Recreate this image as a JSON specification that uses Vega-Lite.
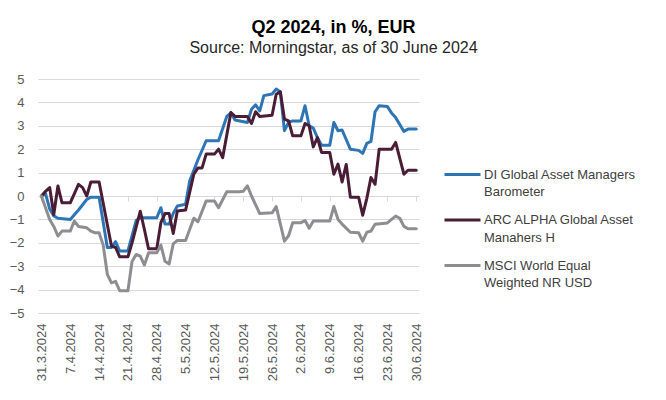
{
  "$schema": "https://vega.github.io/schema/vega-lite/v6.json",
  "width": 381,
  "height": 234,
  "autosize": {"type": "none"},
  "padding": {"left": 38, "top": 79, "right": 247, "bottom": 87},
  "background": "white",
  "title": {
    "text": "Q2 2024, in %, EUR",
    "subtitle": "Source: Morningstar, as of 30 June 2024",
    "anchor": "middle",
    "frame": "group",
    "dx": 105,
    "offset": 17,
    "font": "Liberation Sans",
    "fontSize": 18,
    "fontWeight": "bold",
    "color": "#000000",
    "subtitleFont": "Liberation Sans",
    "subtitleFontSize": 16,
    "subtitleColor": "#262626",
    "subtitlePadding": 3
  },
  "config": {
    "view": {"stroke": null},
    "font": "Liberation Sans",
    "style": {"guide-label": {"lineHeight": 17.5}}
  },
  "datasets": {
    "series": [
      {"date": "2024-03-31", "series": "DI Global Asset Managers Barometer", "value": 0},
      {"date": "2024-04-01", "series": "DI Global Asset Managers Barometer", "value": 0.1},
      {"date": "2024-04-02", "series": "DI Global Asset Managers Barometer", "value": -0.55},
      {"date": "2024-04-03", "series": "DI Global Asset Managers Barometer", "value": -0.85},
      {"date": "2024-04-04", "series": "DI Global Asset Managers Barometer", "value": -0.95},
      {"date": "2024-04-07", "series": "DI Global Asset Managers Barometer", "value": -1.0},
      {"date": "2024-04-09", "series": "DI Global Asset Managers Barometer", "value": -0.6},
      {"date": "2024-04-11", "series": "DI Global Asset Managers Barometer", "value": -0.15},
      {"date": "2024-04-12", "series": "DI Global Asset Managers Barometer", "value": -0.05},
      {"date": "2024-04-14", "series": "DI Global Asset Managers Barometer", "value": -0.05},
      {"date": "2024-04-16", "series": "DI Global Asset Managers Barometer", "value": -2.2},
      {"date": "2024-04-17", "series": "DI Global Asset Managers Barometer", "value": -2.2},
      {"date": "2024-04-18", "series": "DI Global Asset Managers Barometer", "value": -1.95},
      {"date": "2024-04-19", "series": "DI Global Asset Managers Barometer", "value": -2.35},
      {"date": "2024-04-21", "series": "DI Global Asset Managers Barometer", "value": -2.35},
      {"date": "2024-04-23", "series": "DI Global Asset Managers Barometer", "value": -1.05},
      {"date": "2024-04-24", "series": "DI Global Asset Managers Barometer", "value": -0.93},
      {"date": "2024-04-28", "series": "DI Global Asset Managers Barometer", "value": -0.93},
      {"date": "2024-04-29", "series": "DI Global Asset Managers Barometer", "value": -0.5},
      {"date": "2024-04-30", "series": "DI Global Asset Managers Barometer", "value": -1.2},
      {"date": "2024-05-01", "series": "DI Global Asset Managers Barometer", "value": -1.2},
      {"date": "2024-05-02", "series": "DI Global Asset Managers Barometer", "value": -0.75},
      {"date": "2024-05-03", "series": "DI Global Asset Managers Barometer", "value": -0.43},
      {"date": "2024-05-05", "series": "DI Global Asset Managers Barometer", "value": -0.35},
      {"date": "2024-05-06", "series": "DI Global Asset Managers Barometer", "value": 0.65},
      {"date": "2024-05-08", "series": "DI Global Asset Managers Barometer", "value": 1.55},
      {"date": "2024-05-10", "series": "DI Global Asset Managers Barometer", "value": 2.36},
      {"date": "2024-05-13", "series": "DI Global Asset Managers Barometer", "value": 2.36},
      {"date": "2024-05-15", "series": "DI Global Asset Managers Barometer", "value": 3.4},
      {"date": "2024-05-16", "series": "DI Global Asset Managers Barometer", "value": 3.55},
      {"date": "2024-05-17", "series": "DI Global Asset Managers Barometer", "value": 3.25},
      {"date": "2024-05-20", "series": "DI Global Asset Managers Barometer", "value": 3.14},
      {"date": "2024-05-21", "series": "DI Global Asset Managers Barometer", "value": 3.71},
      {"date": "2024-05-22", "series": "DI Global Asset Managers Barometer", "value": 3.9},
      {"date": "2024-05-23", "series": "DI Global Asset Managers Barometer", "value": 3.64},
      {"date": "2024-05-24", "series": "DI Global Asset Managers Barometer", "value": 4.29},
      {"date": "2024-05-26", "series": "DI Global Asset Managers Barometer", "value": 4.36},
      {"date": "2024-05-27", "series": "DI Global Asset Managers Barometer", "value": 4.57},
      {"date": "2024-05-28", "series": "DI Global Asset Managers Barometer", "value": 4.45},
      {"date": "2024-05-29", "series": "DI Global Asset Managers Barometer", "value": 2.79},
      {"date": "2024-05-30", "series": "DI Global Asset Managers Barometer", "value": 3.15},
      {"date": "2024-05-31", "series": "DI Global Asset Managers Barometer", "value": 3.21},
      {"date": "2024-06-02", "series": "DI Global Asset Managers Barometer", "value": 3.21},
      {"date": "2024-06-03", "series": "DI Global Asset Managers Barometer", "value": 3.86},
      {"date": "2024-06-04", "series": "DI Global Asset Managers Barometer", "value": 3.0},
      {"date": "2024-06-05", "series": "DI Global Asset Managers Barometer", "value": 2.9},
      {"date": "2024-06-06", "series": "DI Global Asset Managers Barometer", "value": 2.5},
      {"date": "2024-06-07", "series": "DI Global Asset Managers Barometer", "value": 2.17},
      {"date": "2024-06-09", "series": "DI Global Asset Managers Barometer", "value": 2.17},
      {"date": "2024-06-10", "series": "DI Global Asset Managers Barometer", "value": 3.14},
      {"date": "2024-06-11", "series": "DI Global Asset Managers Barometer", "value": 2.79},
      {"date": "2024-06-12", "series": "DI Global Asset Managers Barometer", "value": 2.82},
      {"date": "2024-06-14", "series": "DI Global Asset Managers Barometer", "value": 2.0},
      {"date": "2024-06-16", "series": "DI Global Asset Managers Barometer", "value": 1.95},
      {"date": "2024-06-17", "series": "DI Global Asset Managers Barometer", "value": 1.82},
      {"date": "2024-06-18", "series": "DI Global Asset Managers Barometer", "value": 2.25},
      {"date": "2024-06-19", "series": "DI Global Asset Managers Barometer", "value": 2.33},
      {"date": "2024-06-20", "series": "DI Global Asset Managers Barometer", "value": 3.6},
      {"date": "2024-06-21", "series": "DI Global Asset Managers Barometer", "value": 3.86},
      {"date": "2024-06-23", "series": "DI Global Asset Managers Barometer", "value": 3.82},
      {"date": "2024-06-24", "series": "DI Global Asset Managers Barometer", "value": 3.55},
      {"date": "2024-06-25", "series": "DI Global Asset Managers Barometer", "value": 3.35},
      {"date": "2024-06-27", "series": "DI Global Asset Managers Barometer", "value": 2.76},
      {"date": "2024-06-28", "series": "DI Global Asset Managers Barometer", "value": 2.86},
      {"date": "2024-06-30", "series": "DI Global Asset Managers Barometer", "value": 2.86},

      {"date": "2024-03-31", "series": "ARC ALPHA Global Asset Manahers H", "value": 0},
      {"date": "2024-04-01", "series": "ARC ALPHA Global Asset Manahers H", "value": 0.2},
      {"date": "2024-04-02", "series": "ARC ALPHA Global Asset Manahers H", "value": 0.36},
      {"date": "2024-04-03", "series": "ARC ALPHA Global Asset Manahers H", "value": -0.79},
      {"date": "2024-04-04", "series": "ARC ALPHA Global Asset Manahers H", "value": 0.43},
      {"date": "2024-04-05", "series": "ARC ALPHA Global Asset Manahers H", "value": -0.29},
      {"date": "2024-04-07", "series": "ARC ALPHA Global Asset Manahers H", "value": -0.29},
      {"date": "2024-04-09", "series": "ARC ALPHA Global Asset Manahers H", "value": 0.5},
      {"date": "2024-04-10", "series": "ARC ALPHA Global Asset Manahers H", "value": 0.36},
      {"date": "2024-04-11", "series": "ARC ALPHA Global Asset Manahers H", "value": 0.0},
      {"date": "2024-04-12", "series": "ARC ALPHA Global Asset Manahers H", "value": 0.6},
      {"date": "2024-04-14", "series": "ARC ALPHA Global Asset Manahers H", "value": 0.6},
      {"date": "2024-04-17", "series": "ARC ALPHA Global Asset Manahers H", "value": -2.14},
      {"date": "2024-04-18", "series": "ARC ALPHA Global Asset Manahers H", "value": -2.2},
      {"date": "2024-04-19", "series": "ARC ALPHA Global Asset Manahers H", "value": -2.6},
      {"date": "2024-04-21", "series": "ARC ALPHA Global Asset Manahers H", "value": -2.6},
      {"date": "2024-04-22", "series": "ARC ALPHA Global Asset Manahers H", "value": -2.0},
      {"date": "2024-04-24", "series": "ARC ALPHA Global Asset Manahers H", "value": -0.65},
      {"date": "2024-04-25", "series": "ARC ALPHA Global Asset Manahers H", "value": -1.43},
      {"date": "2024-04-26", "series": "ARC ALPHA Global Asset Manahers H", "value": -2.25},
      {"date": "2024-04-28", "series": "ARC ALPHA Global Asset Manahers H", "value": -2.25},
      {"date": "2024-04-29", "series": "ARC ALPHA Global Asset Manahers H", "value": -1.14},
      {"date": "2024-04-30", "series": "ARC ALPHA Global Asset Manahers H", "value": -0.75},
      {"date": "2024-05-01", "series": "ARC ALPHA Global Asset Manahers H", "value": -0.75},
      {"date": "2024-05-02", "series": "ARC ALPHA Global Asset Manahers H", "value": -1.6},
      {"date": "2024-05-03", "series": "ARC ALPHA Global Asset Manahers H", "value": -0.64},
      {"date": "2024-05-05", "series": "ARC ALPHA Global Asset Manahers H", "value": -0.6},
      {"date": "2024-05-07", "series": "ARC ALPHA Global Asset Manahers H", "value": 0.93},
      {"date": "2024-05-08", "series": "ARC ALPHA Global Asset Manahers H", "value": 1.2},
      {"date": "2024-05-09", "series": "ARC ALPHA Global Asset Manahers H", "value": 1.2},
      {"date": "2024-05-10", "series": "ARC ALPHA Global Asset Manahers H", "value": 1.79},
      {"date": "2024-05-12", "series": "ARC ALPHA Global Asset Manahers H", "value": 1.79},
      {"date": "2024-05-13", "series": "ARC ALPHA Global Asset Manahers H", "value": 2.0},
      {"date": "2024-05-14", "series": "ARC ALPHA Global Asset Manahers H", "value": 1.64},
      {"date": "2024-05-16", "series": "ARC ALPHA Global Asset Manahers H", "value": 3.57},
      {"date": "2024-05-17", "series": "ARC ALPHA Global Asset Manahers H", "value": 3.4},
      {"date": "2024-05-20", "series": "ARC ALPHA Global Asset Manahers H", "value": 3.4},
      {"date": "2024-05-21", "series": "ARC ALPHA Global Asset Manahers H", "value": 3.1},
      {"date": "2024-05-22", "series": "ARC ALPHA Global Asset Manahers H", "value": 3.6},
      {"date": "2024-05-23", "series": "ARC ALPHA Global Asset Manahers H", "value": 3.4},
      {"date": "2024-05-26", "series": "ARC ALPHA Global Asset Manahers H", "value": 3.45},
      {"date": "2024-05-27", "series": "ARC ALPHA Global Asset Manahers H", "value": 4.35},
      {"date": "2024-05-28", "series": "ARC ALPHA Global Asset Manahers H", "value": 4.45},
      {"date": "2024-05-29", "series": "ARC ALPHA Global Asset Manahers H", "value": 3.29},
      {"date": "2024-05-30", "series": "ARC ALPHA Global Asset Manahers H", "value": 3.21},
      {"date": "2024-05-31", "series": "ARC ALPHA Global Asset Manahers H", "value": 2.57},
      {"date": "2024-06-02", "series": "ARC ALPHA Global Asset Manahers H", "value": 2.57},
      {"date": "2024-06-03", "series": "ARC ALPHA Global Asset Manahers H", "value": 3.1},
      {"date": "2024-06-04", "series": "ARC ALPHA Global Asset Manahers H", "value": 3.0},
      {"date": "2024-06-05", "series": "ARC ALPHA Global Asset Manahers H", "value": 2.1},
      {"date": "2024-06-06", "series": "ARC ALPHA Global Asset Manahers H", "value": 2.5},
      {"date": "2024-06-07", "series": "ARC ALPHA Global Asset Manahers H", "value": 1.86},
      {"date": "2024-06-09", "series": "ARC ALPHA Global Asset Manahers H", "value": 1.86},
      {"date": "2024-06-10", "series": "ARC ALPHA Global Asset Manahers H", "value": 0.93},
      {"date": "2024-06-11", "series": "ARC ALPHA Global Asset Manahers H", "value": 1.36},
      {"date": "2024-06-12", "series": "ARC ALPHA Global Asset Manahers H", "value": 0.6},
      {"date": "2024-06-13", "series": "ARC ALPHA Global Asset Manahers H", "value": 1.35},
      {"date": "2024-06-14", "series": "ARC ALPHA Global Asset Manahers H", "value": -0.05},
      {"date": "2024-06-16", "series": "ARC ALPHA Global Asset Manahers H", "value": -0.05},
      {"date": "2024-06-17", "series": "ARC ALPHA Global Asset Manahers H", "value": -0.82},
      {"date": "2024-06-18", "series": "ARC ALPHA Global Asset Manahers H", "value": -0.1},
      {"date": "2024-06-19", "series": "ARC ALPHA Global Asset Manahers H", "value": 0.79},
      {"date": "2024-06-20", "series": "ARC ALPHA Global Asset Manahers H", "value": 0.5},
      {"date": "2024-06-21", "series": "ARC ALPHA Global Asset Manahers H", "value": 2.0},
      {"date": "2024-06-24", "series": "ARC ALPHA Global Asset Manahers H", "value": 2.0},
      {"date": "2024-06-25", "series": "ARC ALPHA Global Asset Manahers H", "value": 2.29},
      {"date": "2024-06-27", "series": "ARC ALPHA Global Asset Manahers H", "value": 0.93},
      {"date": "2024-06-28", "series": "ARC ALPHA Global Asset Manahers H", "value": 1.1},
      {"date": "2024-06-30", "series": "ARC ALPHA Global Asset Manahers H", "value": 1.1},

      {"date": "2024-03-31", "series": "MSCI World Equal Weighted NR USD", "value": 0},
      {"date": "2024-04-01", "series": "MSCI World Equal Weighted NR USD", "value": -0.5},
      {"date": "2024-04-02", "series": "MSCI World Equal Weighted NR USD", "value": -1.0},
      {"date": "2024-04-03", "series": "MSCI World Equal Weighted NR USD", "value": -1.3},
      {"date": "2024-04-04", "series": "MSCI World Equal Weighted NR USD", "value": -1.71},
      {"date": "2024-04-05", "series": "MSCI World Equal Weighted NR USD", "value": -1.5},
      {"date": "2024-04-07", "series": "MSCI World Equal Weighted NR USD", "value": -1.5},
      {"date": "2024-04-08", "series": "MSCI World Equal Weighted NR USD", "value": -1.07},
      {"date": "2024-04-09", "series": "MSCI World Equal Weighted NR USD", "value": -1.3},
      {"date": "2024-04-11", "series": "MSCI World Equal Weighted NR USD", "value": -1.36},
      {"date": "2024-04-12", "series": "MSCI World Equal Weighted NR USD", "value": -1.5},
      {"date": "2024-04-13", "series": "MSCI World Equal Weighted NR USD", "value": -1.57},
      {"date": "2024-04-14", "series": "MSCI World Equal Weighted NR USD", "value": -1.57},
      {"date": "2024-04-15", "series": "MSCI World Equal Weighted NR USD", "value": -2.1},
      {"date": "2024-04-16", "series": "MSCI World Equal Weighted NR USD", "value": -3.35},
      {"date": "2024-04-17", "series": "MSCI World Equal Weighted NR USD", "value": -3.71},
      {"date": "2024-04-18", "series": "MSCI World Equal Weighted NR USD", "value": -3.65},
      {"date": "2024-04-19", "series": "MSCI World Equal Weighted NR USD", "value": -4.05},
      {"date": "2024-04-21", "series": "MSCI World Equal Weighted NR USD", "value": -4.05},
      {"date": "2024-04-22", "series": "MSCI World Equal Weighted NR USD", "value": -2.8},
      {"date": "2024-04-23", "series": "MSCI World Equal Weighted NR USD", "value": -2.5},
      {"date": "2024-04-24", "series": "MSCI World Equal Weighted NR USD", "value": -2.57},
      {"date": "2024-04-25", "series": "MSCI World Equal Weighted NR USD", "value": -2.95},
      {"date": "2024-04-26", "series": "MSCI World Equal Weighted NR USD", "value": -2.43},
      {"date": "2024-04-28", "series": "MSCI World Equal Weighted NR USD", "value": -2.43},
      {"date": "2024-04-29", "series": "MSCI World Equal Weighted NR USD", "value": -2.1},
      {"date": "2024-04-30", "series": "MSCI World Equal Weighted NR USD", "value": -2.79},
      {"date": "2024-05-01", "series": "MSCI World Equal Weighted NR USD", "value": -2.9},
      {"date": "2024-05-02", "series": "MSCI World Equal Weighted NR USD", "value": -2.05},
      {"date": "2024-05-03", "series": "MSCI World Equal Weighted NR USD", "value": -1.9},
      {"date": "2024-05-05", "series": "MSCI World Equal Weighted NR USD", "value": -1.9},
      {"date": "2024-05-07", "series": "MSCI World Equal Weighted NR USD", "value": -0.95},
      {"date": "2024-05-08", "series": "MSCI World Equal Weighted NR USD", "value": -1.1},
      {"date": "2024-05-10", "series": "MSCI World Equal Weighted NR USD", "value": -0.21},
      {"date": "2024-05-12", "series": "MSCI World Equal Weighted NR USD", "value": -0.21},
      {"date": "2024-05-13", "series": "MSCI World Equal Weighted NR USD", "value": -0.5},
      {"date": "2024-05-15", "series": "MSCI World Equal Weighted NR USD", "value": 0.18},
      {"date": "2024-05-18", "series": "MSCI World Equal Weighted NR USD", "value": 0.18},
      {"date": "2024-05-19", "series": "MSCI World Equal Weighted NR USD", "value": 0.2},
      {"date": "2024-05-20", "series": "MSCI World Equal Weighted NR USD", "value": 0.43},
      {"date": "2024-05-21", "series": "MSCI World Equal Weighted NR USD", "value": 0.0},
      {"date": "2024-05-23", "series": "MSCI World Equal Weighted NR USD", "value": -0.75},
      {"date": "2024-05-26", "series": "MSCI World Equal Weighted NR USD", "value": -0.72},
      {"date": "2024-05-27", "series": "MSCI World Equal Weighted NR USD", "value": -0.45},
      {"date": "2024-05-29", "series": "MSCI World Equal Weighted NR USD", "value": -1.93},
      {"date": "2024-05-30", "series": "MSCI World Equal Weighted NR USD", "value": -1.7},
      {"date": "2024-05-31", "series": "MSCI World Equal Weighted NR USD", "value": -1.14},
      {"date": "2024-06-02", "series": "MSCI World Equal Weighted NR USD", "value": -1.14},
      {"date": "2024-06-03", "series": "MSCI World Equal Weighted NR USD", "value": -1.05},
      {"date": "2024-06-04", "series": "MSCI World Equal Weighted NR USD", "value": -1.38},
      {"date": "2024-06-05", "series": "MSCI World Equal Weighted NR USD", "value": -1.07},
      {"date": "2024-06-09", "series": "MSCI World Equal Weighted NR USD", "value": -1.07},
      {"date": "2024-06-10", "series": "MSCI World Equal Weighted NR USD", "value": -0.45},
      {"date": "2024-06-11", "series": "MSCI World Equal Weighted NR USD", "value": -1.0},
      {"date": "2024-06-12", "series": "MSCI World Equal Weighted NR USD", "value": -1.2},
      {"date": "2024-06-14", "series": "MSCI World Equal Weighted NR USD", "value": -1.55},
      {"date": "2024-06-16", "series": "MSCI World Equal Weighted NR USD", "value": -1.57},
      {"date": "2024-06-17", "series": "MSCI World Equal Weighted NR USD", "value": -1.93},
      {"date": "2024-06-18", "series": "MSCI World Equal Weighted NR USD", "value": -1.55},
      {"date": "2024-06-19", "series": "MSCI World Equal Weighted NR USD", "value": -1.5},
      {"date": "2024-06-20", "series": "MSCI World Equal Weighted NR USD", "value": -1.21},
      {"date": "2024-06-23", "series": "MSCI World Equal Weighted NR USD", "value": -1.15},
      {"date": "2024-06-24", "series": "MSCI World Equal Weighted NR USD", "value": -1.0},
      {"date": "2024-06-25", "series": "MSCI World Equal Weighted NR USD", "value": -0.86},
      {"date": "2024-06-26", "series": "MSCI World Equal Weighted NR USD", "value": -0.95},
      {"date": "2024-06-27", "series": "MSCI World Equal Weighted NR USD", "value": -1.3},
      {"date": "2024-06-28", "series": "MSCI World Equal Weighted NR USD", "value": -1.4},
      {"date": "2024-06-30", "series": "MSCI World Equal Weighted NR USD", "value": -1.4}
    ]
  },
  "data": {"name": "series"},
  "mark": {"type": "line", "strokeWidth": 3, "strokeJoin": "round", "strokeCap": "round"},
  "encoding": {
    "x": {
      "field": "date",
      "type": "temporal",
      "scale": {
        "type": "utc",
        "domain": [
          {"year": 2024, "month": 3, "date": 30, "hours": 4, "utc": true},
          {"year": 2024, "month": 6, "date": 30, "hours": 16, "utc": true}
        ]
      },
      "axis": {
        "orient": "bottom",
        "offset": -117,
        "title": null,
        "grid": false,
        "values": [
          {"year": 2024, "month": 3, "date": 31, "utc": true},
          {"year": 2024, "month": 4, "date": 7, "utc": true},
          {"year": 2024, "month": 4, "date": 14, "utc": true},
          {"year": 2024, "month": 4, "date": 21, "utc": true},
          {"year": 2024, "month": 4, "date": 28, "utc": true},
          {"year": 2024, "month": 5, "date": 5, "utc": true},
          {"year": 2024, "month": 5, "date": 12, "utc": true},
          {"year": 2024, "month": 5, "date": 19, "utc": true},
          {"year": 2024, "month": 5, "date": 26, "utc": true},
          {"year": 2024, "month": 6, "date": 2, "utc": true},
          {"year": 2024, "month": 6, "date": 9, "utc": true},
          {"year": 2024, "month": 6, "date": 16, "utc": true},
          {"year": 2024, "month": 6, "date": 23, "utc": true},
          {"year": 2024, "month": 6, "date": 30, "utc": true}
        ],
        "labelExpr": "utcFormat(datum.value, '%-d.%-m.%Y')",
        "labelAngle": 270,
        "labelAlign": "right",
        "labelBaseline": "middle",
        "labelPadding": 122,
        "labelFontSize": 13,
        "labelColor": "#595959",
        "labelOverlap": false,
        "labelFlush": false,
        "tickSize": 5,
        "tickColor": "#d9d9d9",
        "domainColor": "#d9d9d9",
        "domainWidth": 1
      }
    },
    "y": {
      "field": "value",
      "type": "quantitative",
      "scale": {"domain": [-5, 5], "nice": false, "zero": false},
      "axis": {
        "title": null,
        "values": [-5, -4, -3, -2, -1, 0, 1, 2, 3, 4, 5],
        "grid": true,
        "gridColor": "#d9d9d9",
        "gridWidth": 1,
        "domain": false,
        "ticks": false,
        "labelFontSize": 13,
        "labelColor": "#595959",
        "labelPadding": 14
      }
    },
    "color": {
      "field": "series",
      "type": "nominal",
      "scale": {
        "domain": ["DI Global Asset Managers Barometer", "ARC ALPHA Global Asset Manahers H", "MSCI World Equal Weighted NR USD"],
        "range": ["#2e75b6", "#4a1d36", "#8e8e92"]
      },
      "legend": {
        "title": null,
        "orient": "none",
        "legendX": 405,
        "legendY": 76,
        "padding": 0,
        "symbolType": "stroke",
        "symbolStrokeWidth": 3,
        "symbolSize": 1296,
        "labelFontSize": 13,
        "labelColor": "#404040",
        "labelOffset": 2,
        "labelLimit": 300,
        "rowPadding": 1.5,
        "labelExpr": "datum.label == 'DI Global Asset Managers Barometer' ? ['DI Global Asset Managers', 'Barometer'] : datum.label == 'ARC ALPHA Global Asset Manahers H' ? ['ARC ALPHA Global Asset', 'Manahers H'] : ['MSCI World Equal', 'Weighted NR USD']"
      }
    }
  }
}
